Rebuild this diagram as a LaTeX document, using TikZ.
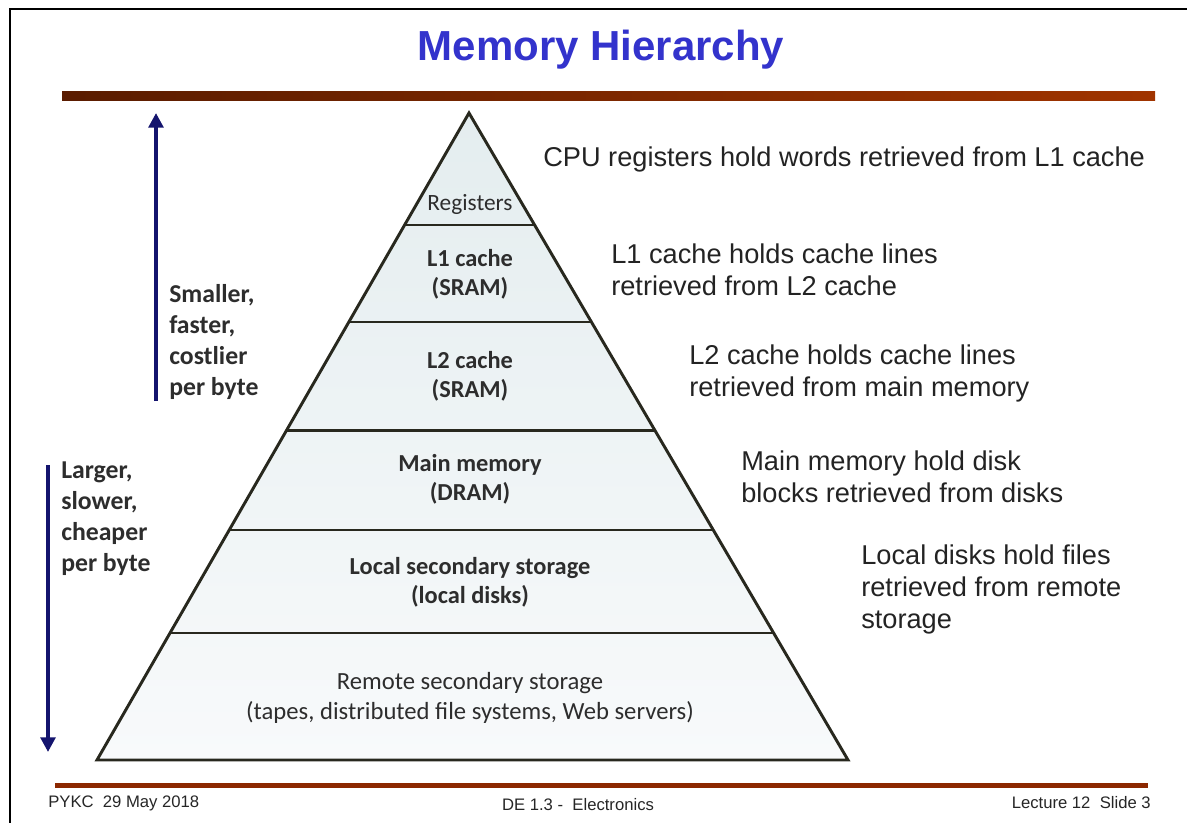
\documentclass[tikz,border=0pt]{standalone}
\usepackage{fontspec}
\setmainfont{Liberation Sans}
\newfontfamily\calfont{Carlito}
\usetikzlibrary{arrows.meta,calc}
\definecolor{titleblue}{RGB}{51,51,204}
\definecolor{navyarrow}{RGB}{20,20,110}
\definecolor{barleft}{RGB}{90,28,0}
\definecolor{barright}{RGB}{160,52,0}
\definecolor{barbottom}{RGB}{140,40,0}
\definecolor{pyrtop}{RGB}{228,237,239}
\definecolor{pyrbot}{RGB}{248,250,251}
\definecolor{pyrline}{RGB}{40,40,30}
\definecolor{pyrtext}{RGB}{45,45,45}
\definecolor{sidetext}{RGB}{35,35,35}
\tikzset{
  layertext/.style={font=\calfont\fontsize{18.5}{22}\selectfont, text=pyrtext, align=center, inner sep=0pt},
  layertextb/.style={layertext, font=\calfont\bfseries\fontsize{18.3}{22}\selectfont},
  desc/.style={font=\fontsize{20.4}{24}\selectfont, text=sidetext, align=left, anchor=west, inner sep=0pt},
  sidelabel/.style={font=\calfont\bfseries\fontsize{19.3}{23.3}\selectfont, text=pyrtext, align=left, anchor=west, inner sep=0pt},
  footer/.style={font=\fontsize{12.5}{14}\selectfont, text=black!85, inner sep=0pt},
  bigarrow/.style={draw=navyarrow, line width=3.2pt, -{Triangle[width=11pt,length=11pt]}},
  layerline/.style={draw=pyrline, line width=2.2pt}
}
\begin{document}
\begin{tikzpicture}[x=0.75pt,y=-0.75pt]
\useasboundingbox (0,0) rectangle (1187,823);
% slide frame
\draw[line width=2pt, black] (10,823) -- (10,9) -- (1187,9);
% title
\node[font=\bfseries\fontsize{31.5}{36}\selectfont, text=titleblue, inner sep=0pt] (title) at (601,50) {Memory Hierarchy};
% top bar
\shade[left color=barleft, right color=barright] (62,92) rectangle (1155,101);
% bottom bar
\fill[barbottom] (55,783) rectangle (1148,788);
% pyramid
\coordinate (apex) at (469,113);
\coordinate (bl) at (97,760);
\coordinate (br) at (848,760);
\shade[top color=pyrtop, bottom color=pyrbot] (apex) -- (bl) -- (br) -- cycle;
\foreach \n/\t in {a/0.1731, b/0.3230, c/0.4900, d/0.6445, e/0.8037} {
  \coordinate (l\n) at ($(apex)!\t!(bl)$);
  \coordinate (r\n) at ($(apex)!\t!(br)$);
}
\foreach \n in {a,b,c,d,e} { \draw[layerline] (l\n) -- (r\n); }
\draw[layerline, line join=miter] (apex) -- (bl) -- (br) -- cycle;
% layer labels
\node[layertext, font=\calfont\fontsize{17.5}{22}\selectfont] (reg) at (470,204) {Registers};
\node[layertextb] (l1) at (470,274.5) {L1 cache\\(SRAM)};
\node[layertextb] (l2) at (470,376) {L2 cache\\(SRAM)};
\node[layertextb] (mm) at (470,479) {Main memory\\(DRAM)};
\node[layertextb] (lss) at (470,582) {Local secondary storage\\(local disks)};
\node[layertext] (rss) at (470,698) {Remote secondary storage\\(tapes, distributed file systems, Web servers)};
% descriptions
\node[desc] (d0) at (543,159) {CPU registers hold words retrieved from L1 cache};
\node[desc] (d1) at (611,270) {L1 cache holds cache lines\\retrieved from L2 cache};
\node[desc] (d2) at (689,373) {L2 cache holds cache lines\\retrieved from main memory};
\node[desc] (d3) at (741,477) {Main memory hold disk\\blocks retrieved from disks};
\node[desc] (d4) at (861,589) {Local disks hold files\\retrieved from remote\\storage};
% side arrows and labels
\coordinate (upb) at (156,401);
\coordinate (upt) at (156,113);
\draw[bigarrow] (upb) -- (upt);
\node[sidelabel] (small) at (169,342) {Smaller,\\faster,\\costlier\\per byte};
\coordinate (dnt) at (48,465);
\coordinate (dnb) at (48,752);
\draw[bigarrow] (dnt) -- (dnb);
\node[sidelabel] (large) at (61,519) {Larger,\\slower,\\cheaper\\per byte};
% footer
\node[footer, anchor=west] (f1) at (48,803) {PYKC\ \ 29 May 2018};
\node[footer] (f2) at (578,805) {DE 1.3 -\ \ Electronics};
\node[footer, anchor=east] (f3) at (1151,803) {Lecture 12\ \ Slide 3};
\end{tikzpicture}
\end{document}
